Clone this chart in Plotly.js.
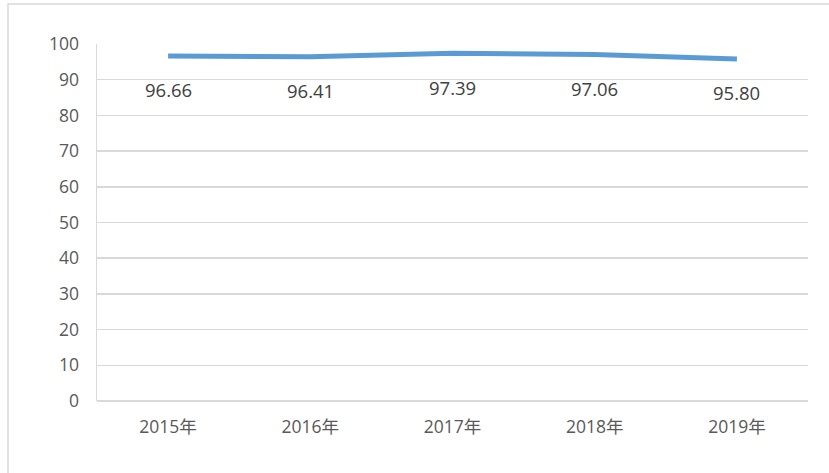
<!DOCTYPE html>
<html>
<head>
<meta charset="utf-8">
<script src="https://cdn.plot.ly/plotly-3.0.1.min.js"></script>
<style>
  html, body { margin: 0; padding: 0; background: #ffffff; }
  #chart { width: 829px; height: 473px; }
</style>
</head>
<body>
<div id="chart"></div>
<script>
// Yearly values
const years = ['2015年', '2016年', '2017年', '2018年', '2019年'];
const values = [96.66, 96.41, 97.39, 97.06, 95.80];
const yTicks = [0, 10, 20, 30, 40, 50, 60, 70, 80, 90, 100];

const FONT = '"Open Sans", "Noto Sans CJK SC", sans-serif';

const trace = {
  type: 'scatter',
  mode: 'lines',
  x: years,
  y: values,
  line: { color: '#5b9bd5', width: 5, shape: 'linear' },
  hoverinfo: 'skip'
};

// Value labels sit below each point
const labels = years.map((yr, i) => ({
  x: yr,
  y: values[i],
  xref: 'x',
  yref: 'y',
  text: values[i].toFixed(2),
  showarrow: false,
  yshift: -34,
  font: { family: FONT, size: 18.5, color: '#404040' }
}));

const L = 97, R = 808, T = 44, B = 401;

const layout = {
  width: 829,
  height: 473,
  margin: { l: L, r: 829 - R, t: T, b: 473 - B },
  paper_bgcolor: '#ffffff',
  plot_bgcolor: '#ffffff',
  showlegend: false,
  font: { family: FONT, color: '#595959' },
  xaxis: {
    type: 'category',
    range: [-0.5, 4.5],
    showgrid: false,
    showline: false,
    zeroline: false,
    ticks: '',
    tickfont: { family: FONT, size: 17.5, color: '#595959' },
    ticklabelstandoff: 13
  },
  yaxis: {
    range: [0, 100],
    tickvals: yTicks,
    showgrid: true,
    gridcolor: '#d9d9d9',
    gridwidth: 1.5,
    showline: true,
    linecolor: '#d9d9d9',
    linewidth: 1.5,
    zeroline: true,
    zerolinecolor: '#d9d9d9',
    zerolinewidth: 1.5,
    ticks: '',
    ticklabelstandoff: 13,
    tickfont: { family: FONT, size: 17.5, color: '#595959' },
    fixedrange: true
  },
  annotations: labels,
  shapes: [{
    type: 'rect',
    xref: 'paper',
    yref: 'paper',
    x0: (8 - L) / (R - L),
    x1: (840 - L) / (R - L),
    y0: (B - 490) / (B - T),
    y1: (B - 4) / (B - T),
    line: { color: '#d9d9d9', width: 1.5 },
    fillcolor: 'rgba(0,0,0,0)',
    layer: 'below'
  }]
};

Plotly.newPlot('chart', [trace], layout, { displayModeBar: false, staticPlot: true });
</script>
</body>
</html>
